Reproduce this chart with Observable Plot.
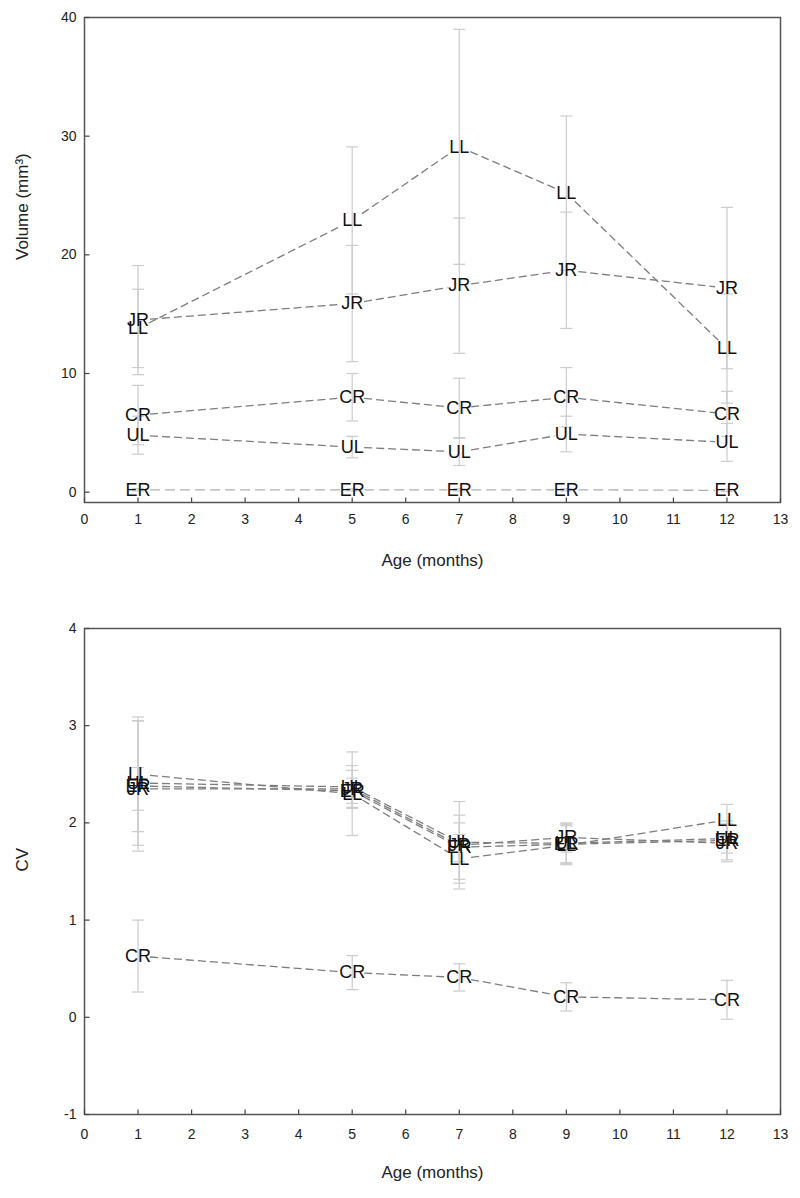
<!DOCTYPE html>
<html>
<head>
<meta charset="utf-8">
<script src="https://cdn.jsdelivr.net/npm/d3@7"></script>
<script src="https://cdn.jsdelivr.net/npm/@observablehq/plot@0.6"></script>
<style>
  html, body { margin: 0; padding: 0; background: white; }
  #chart svg { display: block; }
</style>
</head>
<body>
<div id="chart"></div>
<script>
// ---- data ----
const ages = [1, 5, 7, 9, 12];
const seriesNames = ["LL", "JR", "CR", "UL", "ER"];
const xTicks = [0, 1, 2, 3, 4, 5, 6, 7, 8, 9, 10, 11, 12, 13];

// Volume (mm3): mean and SD
const volLL = [13.8, 22.9, 29.1, 25.2, 12.1];
const volLLsd = [3.3, 6.2, 9.9, 6.5, 4.6];
const volJR = [14.5, 15.9, 17.4, 18.7, 17.2];
const volJRsd = [4.6, 4.9, 5.7, 4.9, 6.8];
const volCR = [6.5, 8.0, 7.1, 8.0, 6.6];
const volCRsd = [2.5, 2.0, 2.5, 2.5, 1.9];
const volUL = [4.8, 3.8, 3.4, 4.9, 4.2];
const volULsd = [1.6, 0.9, 1.15, 1.5, 1.6];
const volER = [0.2, 0.2, 0.2, 0.2, 0.15];
const volERsd = [0.1, 0.1, 0.1, 0.1, 0.1];
const volTicks = [0, 10, 20, 30, 40];

// CV: mean and SD
const cvLL = [2.50, 2.30, 1.63, 1.77, 2.03];
const cvLLsd = [0.59, 0.43, 0.25, 0.20, 0.16];
const cvJR = [2.35, 2.35, 1.77, 1.85, 1.79];
const cvJRsd = [0.22, 0.19, 0.45, 0.15, 0.19];
const cvCR = [0.63, 0.46, 0.41, 0.21, 0.18];
const cvCRsd = [0.37, 0.175, 0.14, 0.145, 0.20];
const cvUL = [2.41, 2.37, 1.80, 1.79, 1.84];
const cvULsd = [0.64, 0.22, 0.20, 0.20, 0.15];
const cvER = [2.38, 2.33, 1.75, 1.78, 1.82];
const cvERsd = [0.67, 0.13, 0.33, 0.20, 0.20];
const cvTicks = [-1, 0, 1, 2, 3, 4];

// ---- helpers ----
function buildRows(means, sds) {
  const rows = [];
  seriesNames.forEach((s, k) => {
    ages.forEach((a, i) => {
      rows.push({series: s, age: a, v: means[k][i], lo: means[k][i] - sds[k][i], hi: means[k][i] + sds[k][i]});
    });
  });
  return rows;
}
function buildSegs(rows) {
  const segs = [];
  for (const s of seriesNames) {
    const r = rows.filter(d => d.series === s);
    for (let i = 1; i < r.length; i++) segs.push({series: s, x1: r[i-1].age, y1: r[i-1].v, x2: r[i].age, y2: r[i].v});
  }
  return segs;
}
const capSymbol = {draw(ctx) { ctx.moveTo(-6, 0); ctx.lineTo(6, 0); }};
const tickUp = {draw(ctx) { ctx.moveTo(0, 0); ctx.lineTo(0, -5); }};
const tickRight = {draw(ctx) { ctx.moveTo(0, 0); ctx.lineTo(5, 0); }};

const FONT = "'Liberation Sans', Arial, Helvetica, sans-serif";
const TICKFONT = "'Liberation Sans Narrow', 'Liberation Sans', Arial, sans-serif";

function chart({rows, yDomain, yTicks, height, marginTop, marginBottom, xTickPad, xLabelDy, yLabel, lightER}) {
  const segs = buildSegs(rows);
  const isLight = d => lightER && d.series === "ER";
  const caps = rows.flatMap(d => [{age: d.age, y: d.lo}, {age: d.age, y: d.hi}]);
  const lineOpts = {x1: "x1", y1: "y1", x2: "x2", y2: "y2", headLength: 0, insetStart: 12, insetEnd: 12, strokeWidth: 1.3, strokeLinecap: "butt"};
  return Plot.plot({
    width: 800, height, marginTop, marginBottom, marginLeft: 84, marginRight: 20,
    style: {fontFamily: FONT, background: "white", color: "#222"},
    x: {domain: [0, 13]},
    y: {domain: yDomain},
    marks: [
      Plot.ruleX(rows, {x: "age", y1: "lo", y2: "hi", stroke: "#cccccc", strokeWidth: 1.2}),
      Plot.dot(caps, {x: "age", y: "y", symbol: capSymbol, stroke: "#cccccc", fill: "none", strokeWidth: 1.2}),
      Plot.arrow(segs.filter(d => !isLight(d)), {...lineOpts, stroke: "#7d7d7d", strokeDasharray: "8,4"}),
      Plot.arrow(segs.filter(isLight), {...lineOpts, stroke: "#b0b0b0", strokeDasharray: "10,5"}),
      Plot.text(rows, {x: "age", y: "v", text: "series", fontSize: 18, fill: "#111", fontFamily: FONT}),
      Plot.frame({stroke: "#555", strokeWidth: 1.5}),
      Plot.dot(xTicks, {x: d => d, frameAnchor: "bottom", symbol: tickUp, stroke: "#444", fill: "none", strokeWidth: 1.2}),
      Plot.dot(yTicks, {y: d => d, frameAnchor: "left", symbol: tickRight, stroke: "#444", fill: "none", strokeWidth: 1.2}),
      Plot.axisX({ticks: xTicks, tickSize: 0, tickPadding: xTickPad, fontSize: 14, label: null, tickFormat: d => String(d), fontFamily: TICKFONT}),
      Plot.axisY({ticks: yTicks, tickSize: 0, tickPadding: 8, fontSize: 14, label: null, tickFormat: d => String(d), fontFamily: TICKFONT}),
      Plot.text(["Age (months)"], {text: d => d, frameAnchor: "bottom", dy: xLabelDy, fontSize: 17, fill: "#222"}),
      Plot.text([yLabel], {text: d => d, frameAnchor: "left", dx: -62, rotate: -90, fontSize: 17, fill: "#222"})
    ]
  });
}

const volRows = buildRows([volLL, volJR, volCR, volUL, volER], [volLLsd, volJRsd, volCRsd, volULsd, volERsd]);
const cvRows = buildRows([cvLL, cvJR, cvCR, cvUL, cvER], [cvLLsd, cvJRsd, cvCRsd, cvULsd, cvERsd]);

const el = document.getElementById("chart");
el.appendChild(chart({rows: volRows, yDomain: [-0.87, 40], yTicks: volTicks, height: 590, marginTop: 17, marginBottom: 88, xTickPad: 12, xLabelDy: 63, yLabel: "Volume (mm³)", lightER: true}));
el.appendChild(chart({rows: cvRows, yDomain: [-1, 4], yTicks: cvTicks, height: 608, marginTop: 38, marginBottom: 84, xTickPad: 15, xLabelDy: 63, yLabel: "CV", lightER: false}));
</script>
</body>
</html>
